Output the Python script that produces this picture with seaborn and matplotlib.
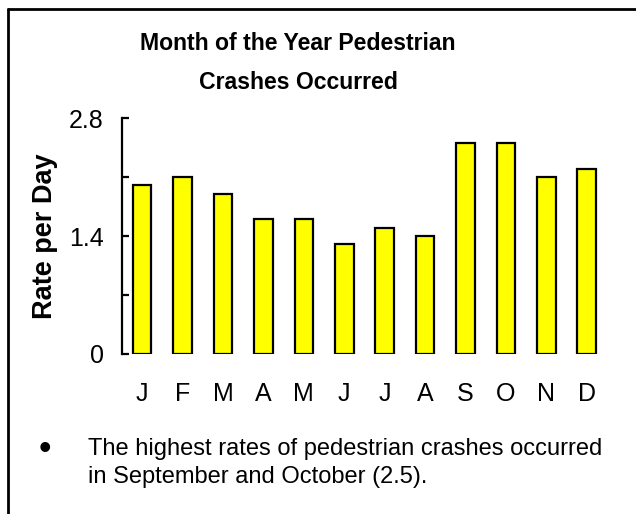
import matplotlib

matplotlib.use("Agg")

import pandas as pd
import seaborn as sns
import matplotlib.pyplot as plt
from matplotlib.lines import Line2D

months = ["Jan", "Feb", "Mar", "Apr", "May", "Jun",
          "Jul", "Aug", "Sep", "Oct", "Nov", "Dec"]
month_letters = ["J", "F", "M", "A", "M", "J", "J", "A", "S", "O", "N", "D"]
rates = [2.0, 2.1, 1.9, 1.6, 1.6, 1.3, 1.5, 1.4, 2.5, 2.5, 2.1, 2.2]
y_ticks = [0, 0.7, 1.4, 2.1, 2.8]
y_tick_labels = ["0", "", "1.4", "", "2.8"]

title_lines = ["Month of the Year Pedestrian", "Crashes Occurred"]
note_lines = ["The highest rates of pedestrian crashes occurred",
              "in September and October (2.5)."]

sns.set_style("white")
plt.rcParams["font.family"] = ["Liberation Sans", "DejaVu Sans"]
plt.rcParams["text.color"] = "black"
plt.rcParams["axes.labelcolor"] = "black"
plt.rcParams["xtick.color"] = "black"
plt.rcParams["ytick.color"] = "black"

df = pd.DataFrame({"month": months, "rate": rates})

fig = plt.figure(figsize=(6.36, 5.14), dpi=100)
ax = fig.add_axes([0.1918, 0.3113, 0.7626, 0.4591])

sns.barplot(data=df, x="month", y="rate", order=months, color="#ffff00",
            edgecolor="black", linewidth=1.6, width=0.46, saturation=1, ax=ax)

ax.set_xlim(-0.5, 11.5)
ax.set_ylim(0, 2.8)
ax.set_yticks(y_ticks)
ax.set_yticklabels(y_tick_labels)
ax.set_xticks(range(len(months)))
ax.set_xticklabels(month_letters)

for side in ["top", "right", "bottom"]:
    ax.spines[side].set_visible(False)
ax.spines["left"].set_linewidth(1.6)
ax.spines["left"].set_color("black")

ax.tick_params(axis="y", direction="in", length=5, width=1.6,
               labelsize=18, pad=13, left=True)
ax.tick_params(axis="x", length=0, labelsize=18, pad=20)

ax.set_xlabel("")
ax.set_ylabel("Rate per Day", fontsize=19.5, fontweight="bold")
ax.yaxis.set_label_coords(-0.132, 0.5)

# title, two lines
fig.text(0.4686, 1 - 50 / 514, title_lines[0], ha="center", va="baseline",
         fontsize=16.6, fontweight="bold")
fig.text(0.4686, 1 - 89 / 514, title_lines[1], ha="center", va="baseline",
         fontsize=16.6, fontweight="bold")

# bullet note under the chart
fig.text(45 / 636, 1 - 459 / 514, "\u2022", ha="center", va="baseline",
         fontsize=26)
fig.text(88 / 636, 1 - 455 / 514, note_lines[0], ha="left", va="baseline",
         fontsize=17)
fig.text(88 / 636, 1 - 483 / 514, note_lines[1], ha="left", va="baseline",
         fontsize=17)

# frame on the left and top edges
fig.add_artist(Line2D([8 / 636, 8 / 636], [0, 1 - 9 / 514], color="black",
                      linewidth=2, transform=fig.transFigure))
fig.add_artist(Line2D([8 / 636, 1], [1 - 9 / 514, 1 - 9 / 514], color="black",
                      linewidth=2, transform=fig.transFigure))

fig.savefig("out.png", dpi=100)
